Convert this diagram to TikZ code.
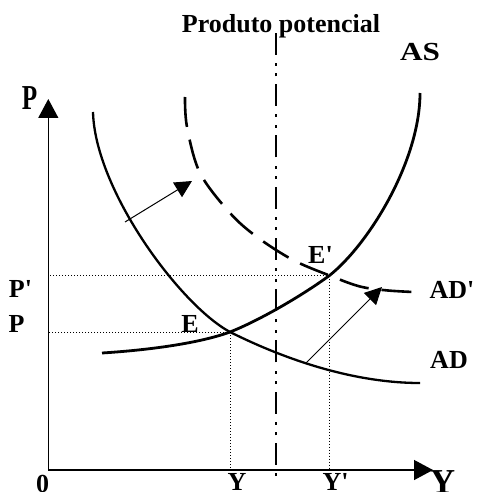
\documentclass[tikz,border=0pt]{standalone}
\usepackage{fontspec}
\setmainfont{Liberation Serif}
\usetikzlibrary{arrows.meta}

\begin{document}
\begin{tikzpicture}[
    x=1pt, y=-1pt,
    >={Triangle[length=19pt, width=20pt]},
    lbl/.style={font=\fontsize{26}{28}\selectfont\bfseries, inner sep=0pt, anchor=base},
    biglbl/.style={font=\fontsize{35}{38}\selectfont\bfseries, inner sep=0pt, anchor=base},
    axisline/.style={line width=1.3pt, ->},
    curve/.style={line width=2.6pt},
    guide/.style={line width=0.9pt, dash pattern=on 1pt off 2pt},
    shiftarrow/.style={line width=1pt, -{Triangle[length=17pt, width=17pt]}},
    potline/.style={line width=2.6pt, dash pattern=on 22pt off 7.5pt on 3pt off 7.5pt on 3pt off 8.25pt, dash phase=40pt}
]
\useasboundingbox (0,0) rectangle (476,492);

% axes
\coordinate (O) at (48.3,470);
\coordinate (Ptop) at (48.3,99);
\coordinate (Yend) at (433,470);
\draw[axisline] (O) -- (Ptop);
\draw[axisline] (O) -- (Yend);

% equilibrium points
\coordinate (E) at (230,332);
\coordinate (Ep) at (329.5,275.5);

% dotted guides to the axes
\draw[guide] (E) -- (E -| O);
\draw[guide] (E) -- (E |- O);
\draw[guide] (Ep) -- (Ep -| O);
\draw[guide] (Ep) -- (Ep |- O);

% potential output
\coordinate (PPbot) at (276,476);
\coordinate (PPtop) at (276,33);
\draw[potline] (PPbot) -- (PPtop);

% AS
\draw[curve, line width=2.8pt] (102,353) .. controls (150,350) and (200,343) .. (E)
    .. controls (258,321) and (300,297) .. (Ep)
    .. controls (370,243) and (420,160) .. (420,93);

% AD
\draw[curve, line width=2.3pt] (93,112) .. controls (95,190) and (180,305) .. (E)
    .. controls (280,357) and (350,383) .. (420,383);

% AD' (shifted)
\draw[curve, dash pattern=on 30pt off 13pt] plot[smooth, tension=0.55] coordinates {
    (185,97) (187,127) (200,173) (230,213) (257,237) (293,260) (Ep) (360,286.5) (388,290.5) (420,292.3)};

% shift arrows
\coordinate (s1) at (125,222);
\coordinate (t1) at (192,181);
\coordinate (s2) at (306,363);
\coordinate (t2) at (382,287);
\draw[shiftarrow] (s1) -- (t1);
\draw[shiftarrow] (s2) -- (t2);

% labels
\node[lbl] (prodlbl) at (281,33) {Produto potencial};
\node[lbl, xscale=1.2, transform shape] (ASlbl) at (420,61) {AS};
\node[biglbl, xscale=0.72, transform shape] (Paxis) at (29.5,110) {P};
\node[lbl] (Pplbl) at (20.5,297) {P\textquotesingle};
\node[lbl] (Plbl) at (16.5,332) {P};
\node[lbl] (Elbl) at (190,332) {E};
\node[lbl] (Eplbl) at (320.5,263) {E\textquotesingle};
\node[lbl] (ADplbl) at (452,298) {AD\textquotesingle};
\node[lbl] (ADlbl) at (449,368) {AD};
\node[lbl] (zero) at (42.5,492.5) {0};
\node[lbl] (Ylbl) at (237,490) {Y};
\node[lbl] (Yplbl) at (335.5,490) {Y\textquotesingle};
\node[biglbl] (Yaxis) at (442.5,493) {Y};

\end{tikzpicture}
\end{document}
